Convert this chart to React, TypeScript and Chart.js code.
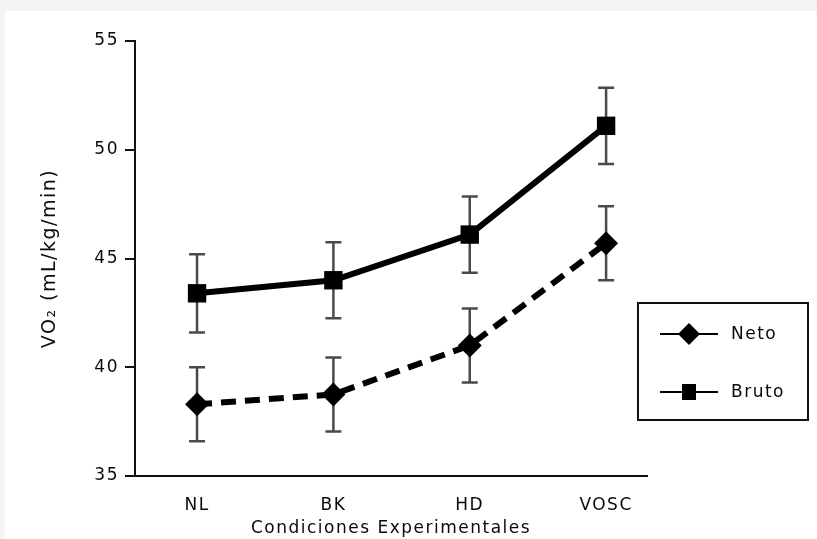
import React, { useEffect, useRef } from "react";
import { Chart, registerables } from "chart.js";

Chart.register(...registerables);

const categories = ["NL", "BK", "HD", "VOSC"];
const netoValues = [38.3, 38.75, 41.0, 45.7];
const netoErrors = [1.7, 1.7, 1.7, 1.7];
const brutoValues = [43.4, 44.0, 46.1, 51.1];
const brutoErrors = [1.8, 1.75, 1.75, 1.75];
const yTicks = [35, 40, 45, 50, 55];

const FONT = "'DejaVu Sans', Verdana, sans-serif";
const TEXT = "#0a0a0a";

const errorBarPlugin = {
  id: "errorBars",
  beforeDatasetsDraw(chart: any) {
    const { ctx } = chart;
    const xs = chart.scales.x;
    const ys = chart.scales.y;
    const sets = [
      { v: brutoValues, e: brutoErrors },
      { v: netoValues, e: netoErrors },
    ];
    ctx.save();
    ctx.strokeStyle = "#4a4a4a";
    ctx.lineWidth = 2.5;
    sets.forEach((s) => {
      s.v.forEach((val, i) => {
        const x = xs.getPixelForValue(i + 1);
        const yt = ys.getPixelForValue(val + s.e[i]);
        const yb = ys.getPixelForValue(val - s.e[i]);
        ctx.beginPath();
        ctx.moveTo(x, yt);
        ctx.lineTo(x, yb);
        ctx.moveTo(x - 8, yt);
        ctx.lineTo(x + 8, yt);
        ctx.moveTo(x - 8, yb);
        ctx.lineTo(x + 8, yb);
        ctx.stroke();
      });
    });
    ctx.restore();
  },
};

const spacingPlugin = {
  id: "spacing",
  beforeInit(chart: any) {
    chart.ctx.letterSpacing = "1.5px";
  },
  beforeDraw(chart: any) {
    chart.ctx.letterSpacing = "1.5px";
  },
};

const legendPlugin = {
  id: "boxLegend",
  afterDraw(chart: any) {
    const { ctx } = chart;
    ctx.save();
    ctx.fillStyle = "#ffffff";
    ctx.fillRect(638, 303, 170, 117);
    ctx.strokeStyle = "#111";
    ctx.lineWidth = 2;
    ctx.strokeRect(638, 303, 170, 117);
    const items = chart.data.datasets.map((d: any) => d).reverse();
    const rows = [334, 392];
    items.forEach((d: any, i: number) => {
      const y = rows[i];
      ctx.strokeStyle = "#000";
      ctx.lineWidth = 2;
      ctx.setLineDash([]);
      ctx.beginPath();
      ctx.moveTo(660, y);
      ctx.lineTo(718, y);
      ctx.stroke();
      ctx.fillStyle = "#000";
      ctx.beginPath();
      if (d.pointStyle === "rectRot") {
        ctx.moveTo(689, y - 11);
        ctx.lineTo(700, y);
        ctx.lineTo(689, y + 11);
        ctx.lineTo(678, y);
        ctx.closePath();
      } else {
        ctx.rect(682, y - 8, 14, 16);
      }
      ctx.fill();
      ctx.fillStyle = TEXT;
      ctx.font = `17px ${FONT}`;
      ctx.textBaseline = "middle";
      ctx.textAlign = "left";
      ctx.fillText(d.label, 731, y + 1);
    });
    ctx.restore();
  },
};

export default function App() {
  const ref = useRef<HTMLCanvasElement>(null);
  useEffect(() => {
    document.body.style.margin = "0";
    const chart = new Chart(ref.current!, {
      type: "line",
      data: {
        datasets: [
          {
            label: "Bruto",
            data: brutoValues.map((v, i) => ({ x: i + 1, y: v })),
            borderColor: "#000",
            backgroundColor: "#000",
            borderWidth: 6,
            pointStyle: "rect",
            pointRadius: 13,
            pointBorderWidth: 0,
            tension: 0,
          },
          {
            label: "Neto",
            data: netoValues.map((v, i) => ({ x: i + 1, y: v })),
            borderColor: "#000",
            backgroundColor: "#000",
            borderWidth: 6,
            borderDash: [15, 9],
            pointStyle: "rectRot",
            pointRadius: 12,
            pointBorderWidth: 0,
            tension: 0,
          },
        ],
      },
      options: {
        responsive: false,
        animation: false,
        devicePixelRatio: 1,
        layout: { padding: { top: 41, right: 170, left: 0, bottom: 0 } },
        plugins: { legend: { display: false }, tooltip: { enabled: false } },
        scales: {
          x: {
            type: "linear",
            min: 0.545,
            max: 4.3,
            afterBuildTicks: (scale: any) => {
              scale.ticks = categories.map((_, i) => ({ value: i + 1 }));
            },
            afterFit: (scale: any) => {
              scale.height = 63;
            },
            grid: { display: false },
            border: { display: true, color: "#111", width: 2 },
            ticks: {
              autoSkip: false,
              maxRotation: 0,
              padding: 11,
              color: TEXT,
              font: { family: FONT, size: 17 },
              callback: (v: any) => categories[Math.round(v) - 1] ?? "",
            },
            title: {
              display: true,
              text: "Condiciones Experimentales",
              color: TEXT,
              font: { family: FONT, size: 17 },
              padding: { top: 0, bottom: 0 },
            },
          },
          y: {
            type: "linear",
            min: 35,
            max: 55,
            afterBuildTicks: (scale: any) => {
              scale.ticks = yTicks.map((v) => ({ value: v }));
            },
            afterFit: (scale: any) => {
              scale.width = 135;
            },
            grid: {
              display: true,
              drawOnChartArea: false,
              drawTicks: true,
              tickLength: 10,
              color: "#111",
              lineWidth: 2,
            },
            border: { display: true, color: "#111", width: 2 },
            ticks: {
              padding: 6,
              color: TEXT,
              font: { family: FONT, size: 17 },
            },
            title: {
              display: true,
              text: "VO\u2082 (mL/kg/min)",
              color: TEXT,
              font: { family: FONT, size: 19 },
              padding: { top: 39, bottom: 0 },
            },
          },
        },
      },
      plugins: [spacingPlugin, errorBarPlugin, legendPlugin],
    });
    return () => chart.destroy();
  }, []);

  return (
    <div
      style={{
        position: "fixed",
        left: 0,
        top: 0,
        width: 817,
        height: 539,
        background: "#f4f4f4",
        overflow: "hidden",
      }}
    >
      <div
        style={{
          position: "absolute",
          left: 5,
          top: 11,
          right: 0,
          bottom: 0,
          background: "#ffffff",
        }}
      />
      <canvas
        ref={ref}
        width={817}
        height={539}
        style={{ position: "absolute", left: 0, top: 0, width: 817, height: 539 }}
      />
    </div>
  );
}
